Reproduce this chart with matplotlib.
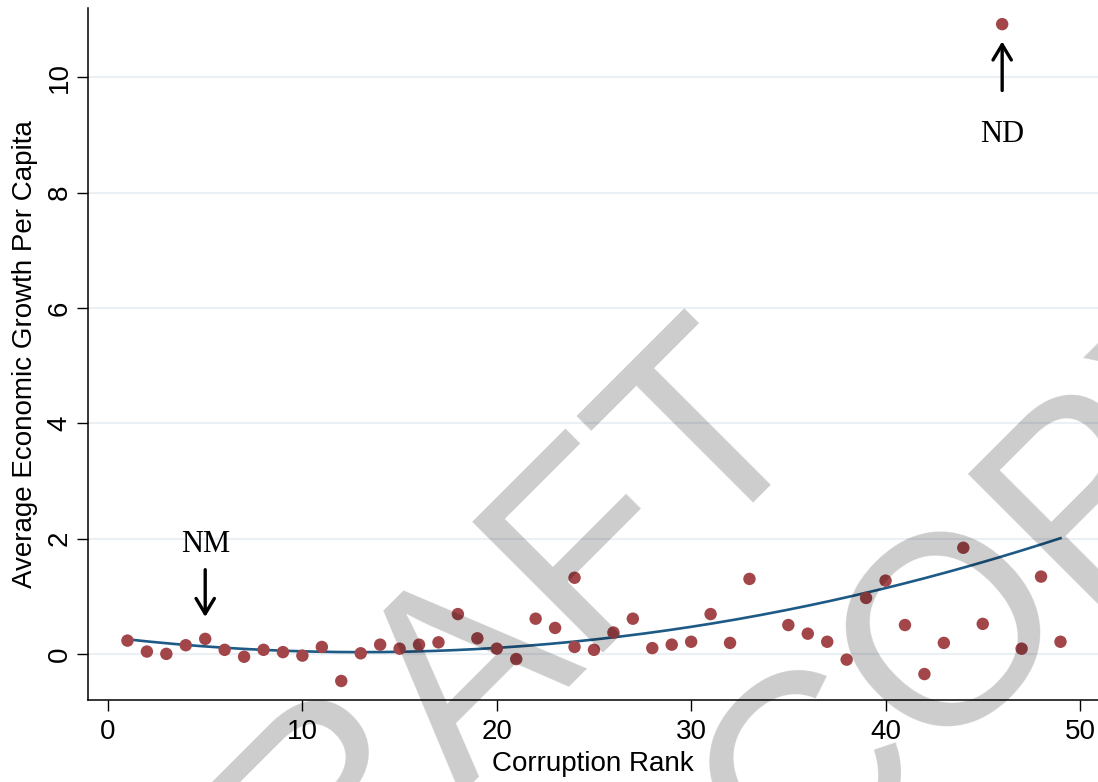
import numpy as np
import matplotlib
matplotlib.use("Agg")
import matplotlib.pyplot as plt

# corruption rank vs. average growth per capita, one point per state
rank = [1, 2, 3, 4, 5, 6, 7, 8, 9, 10, 11, 12, 13, 14, 15, 16, 17, 18, 19, 20,
        21, 22, 23, 24, 24, 25, 26, 27, 28, 29, 30, 31, 32, 33, 35, 36, 37, 38,
        39, 40, 41, 42, 43, 44, 45, 46, 47, 48, 49]
growth = [0.23, 0.04, 0.00, 0.15, 0.26, 0.07, -0.05, 0.07, 0.03, -0.03, 0.12,
          -0.47, 0.01, 0.16, 0.09, 0.16, 0.20, 0.69, 0.27, 0.09, -0.09, 0.61,
          0.45, 1.32, 0.12, 0.07, 0.37, 0.61, 0.10, 0.16, 0.21, 0.69, 0.19,
          1.30, 0.50, 0.35, 0.21, -0.10, 0.97, 1.27, 0.50, -0.35, 0.19, 1.84,
          0.52, 10.92, 0.09, 1.34, 0.21]

xticks = [0, 10, 20, 30, 40, 50]
yticks = [0, 2, 4, 6, 8, 10]

dot_color = "#a2464a"
fit_color = "#1d5a86"
W, H = 1098, 782

plt.rcParams["font.family"] = ["Liberation Sans", "DejaVu Sans"]

fig = plt.figure(figsize=(W / 100, H / 100), dpi=100)
ax = fig.add_axes([88 / W, 82 / H, 1 - 88 / W, 692 / H])

x = np.array(rank, dtype=float)
y = np.array(growth)

# quadratic fit (qfit) over the observed range
coef = np.polyfit(x, y, 2)
xs = np.linspace(x.min(), x.max(), 200)
ax.plot(xs, np.polyval(coef, xs), color=fit_color, lw=1.9, zorder=3)

ax.scatter(x, y, s=80, color=dot_color, edgecolors="none", zorder=4)

ax.set_xlim(-1.03, 50.93)
ax.set_ylim(-0.8, 11.2)
ax.set_xticks(xticks)
ax.set_yticks(yticks)
ax.yaxis.grid(True, color="#eaf0f4", lw=1.5)
ax.set_axisbelow(True)
for side in ("top", "right"):
    ax.spines[side].set_visible(False)
for side in ("left", "bottom"):
    ax.spines[side].set_linewidth(1.1)
ax.tick_params(axis="x", length=8, width=1, labelsize=20, pad=6)
ax.tick_params(axis="y", length=8, width=1, labelsize=20, pad=3)
plt.setp(ax.get_yticklabels(), rotation=90, va="center")

ax.set_xlabel("Corruption Rank", fontsize=20, labelpad=4)
ax.set_ylabel("Average Economic Growth Per Capita", fontsize=20, labelpad=6)

# labelled outliers
serif = ["Liberation Serif", "DejaVu Serif"]
arrow = dict(arrowstyle="->, head_length=0.5, head_width=0.3", lw=2.4,
             color="black", mutation_scale=22, shrinkA=0, shrinkB=0)
ax.text(5, 1.89, "NM", family=serif, fontsize=22, ha="center", va="center")
ax.annotate("", xy=(5, 0.64), xytext=(5, 1.46), arrowprops=arrow)
ax.text(46, 9.0, "ND", family=serif, fontsize=22, ha="center", va="center")
ax.annotate("", xy=(46, 10.62), xytext=(46, 9.77), arrowprops=arrow)

# watermark across the whole figure
for txt, px, py in [("DRAFT", 180, 1054), ("COPY", 794, 896)]:
    fig.text(px / W, 1 - py / H, txt, fontsize=194, rotation=45,
             rotation_mode="anchor", ha="left", va="baseline",
             color="black", alpha=0.2, zorder=10)

fig.savefig("out.png", dpi=100)
